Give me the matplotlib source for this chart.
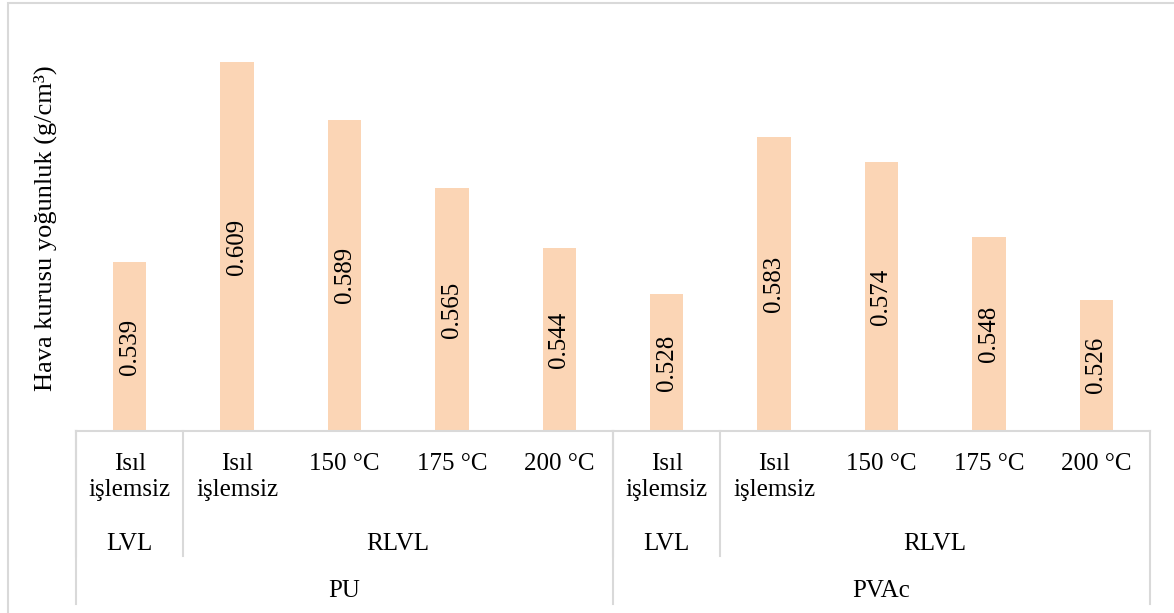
import matplotlib
matplotlib.use('Agg')
import matplotlib.pyplot as plt
from matplotlib.patches import Rectangle
import matplotlib.transforms as mtransforms

plt.rcParams['font.family'] = ['Liberation Serif', 'DejaVu Serif']

# data
treatments = ['Isıl\nişlemsiz', 'Isıl\nişlemsiz', '150 °C', '175 °C', '200 °C',
              'Isıl\nişlemsiz', 'Isıl\nişlemsiz', '150 °C', '175 °C', '200 °C']
material = ['LVL', 'RLVL', 'LVL', 'RLVL']
material_span = [(0, 1), (1, 5), (5, 6), (6, 10)]
adhesive = ['PU', 'PVAc']
adhesive_span = [(0, 5), (5, 10)]
density = [0.539, 0.609, 0.589, 0.565, 0.544, 0.528, 0.583, 0.574, 0.548, 0.526]

BAR = '#FBD5B5'
GRID = '#D9D9D9'
FS = 18

W, H = 1174, 613
fig = plt.figure(figsize=(W / 100, H / 100), dpi=100)
ax = fig.add_axes([76 / W, (H - 431) / H, 1074 / W, 400 / H])

x = list(range(len(density)))
ax.bar(x, density, width=0.31, color=BAR, zorder=2)
ax.set_xlim(-0.5, len(density) - 0.5)
ax.set_ylim(0.48, 0.62)

for xi, v in zip(x, density):
    ax.text(xi, (0.48 + v) / 2, f'{v:.3f}', rotation=90, ha='center', va='center',
            fontsize=FS, color='black')

for s in ['top', 'right', 'left']:
    ax.spines[s].set_visible(False)
ax.spines['bottom'].set_color(GRID)
ax.spines['bottom'].set_linewidth(1.5)
ax.set_xticks([])
ax.set_yticks([])

trans = mtransforms.blended_transform_factory(ax.transData, ax.transAxes)

# level 1 labels
for xi, lab in zip(x, treatments):
    ax.text(xi, -0.055, lab, transform=trans, ha='center', va='top', fontsize=FS,
            linespacing=1.25)

# level 2 labels and separators
for lab, (a, b) in zip(material, material_span):
    ax.text((a + b - 1) / 2, -0.283, lab, transform=trans, ha='center', va='center',
            fontsize=FS)
    ax.plot([a - 0.5, a - 0.5], [0, -0.3125], transform=trans, color=GRID,
            lw=1.5, clip_on=False)

# level 3 labels and separators
for lab, (a, b) in zip(adhesive, adhesive_span):
    ax.text((a + b - 1) / 2, -0.40, lab, transform=trans, ha='center', va='center',
            fontsize=FS)
    ax.plot([a - 0.5, a - 0.5], [0, -0.4325], transform=trans, color=GRID,
            lw=1.5, clip_on=False)
ax.plot([len(density) - 0.5] * 2, [0, -0.4325], transform=trans, color=GRID,
        lw=1.5, clip_on=False)

fig.text(45 / W, (H - 228) / H, 'Hava kurusu yoğunluk (g/cm³)', rotation=90,
         ha='center', va='center', fontsize=19)

# outer chart border
fig.patches.append(Rectangle((7.5 / W, -0.1), 1.2, (H - 3) / H + 0.1,
                             transform=fig.transFigure, fill=False,
                             edgecolor=GRID, lw=1.5))

plt.savefig('out.png', dpi=100)
